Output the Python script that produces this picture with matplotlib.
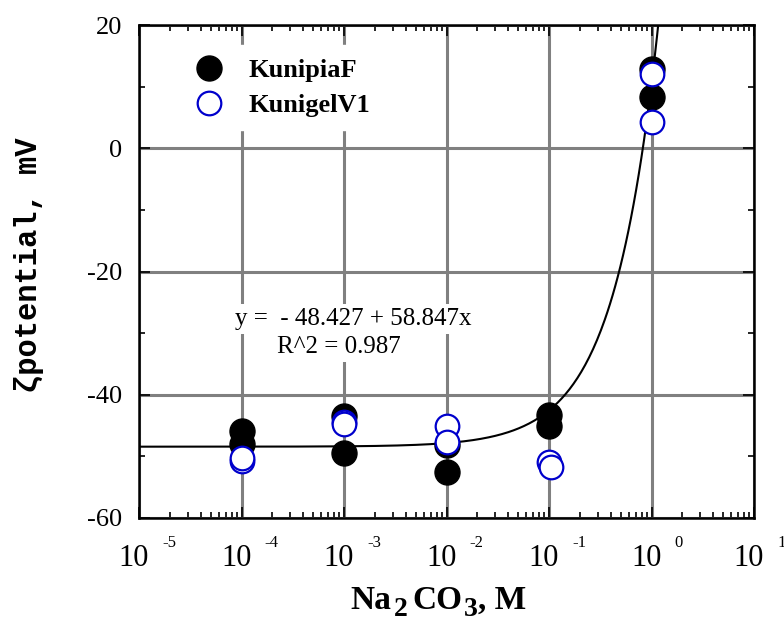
import numpy as np
import matplotlib
matplotlib.use('Agg')
import matplotlib.pyplot as plt
from matplotlib.ticker import LogLocator, MultipleLocator, NullFormatter

plt.rcParams['font.family'] = ['Liberation Serif', 'DejaVu Sans']
plt.rcParams['axes.unicode_minus'] = False

# zeta potential vs Na2CO3 concentration
conc_F = [1e-4, 1e-4, 1e-3, 1e-3, 1e-2, 1e-2, 1e-1, 1e-1, 1, 1]
zeta_F = [-45.9, -48.0, -43.5, -49.5, -48.2, -52.5, -43.3, -45.1, 12.85, 8.3]
conc_V = [1e-4, 1e-4, 1e-3, 1e-3, 1e-2, 1e-2, 1e-1, 1.05e-1, 1, 1]
zeta_V = [-50.7, -50.3, -44.5, -44.8, -45.1, -47.6, -50.9, -51.7, 12.0, 4.2]

# linear fit shown on the chart
fit_a = -48.427
fit_b = 58.847
fit_r2 = 0.987

xticks = [1e-5, 1e-4, 1e-3, 1e-2, 1e-1, 1e0, 1e1]
xexps = ['-5', '-4', '-3', '-2', '-1', '0', '1']
yticks = [-60, -40, -20, 0, 20]

fig = plt.figure(figsize=(7.84, 6.25), dpi=100)
ax = fig.add_axes([139/784, 1-518/625, 615/784, 493/625])

xf = np.logspace(-5, np.log10(1.2), 400)
ax.plot(xf, fit_a + fit_b*xf, color='black', lw=1.5, zorder=3)
ax.plot(conc_F, zeta_F, ls='', marker='o', ms=18, mfc='black', mec='black', zorder=4, label='KunipiaF')
ax.plot(conc_V, zeta_V, ls='', marker='o', ms=17, mfc='white', mec='#0000cc', mew=1.6, zorder=5, label='KunigelV1')

ax.set_xscale('log')
ax.set_xlim(1e-5, 1e1)
ax.set_ylim(-60, 20)
ax.set_xticks(xticks)
ax.xaxis.set_minor_locator(LogLocator(base=10, subs=np.arange(2, 10)))
ax.xaxis.set_major_formatter(NullFormatter())
ax.xaxis.set_minor_formatter(NullFormatter())
ax.set_yticks(yticks)
ax.yaxis.set_minor_locator(MultipleLocator(10))

ax.grid(True, which='major', color='#808080', lw=2.2)
ax.set_axisbelow(True)
for s in ax.spines.values():
    s.set_linewidth(1.8)
ax.tick_params(which='both', direction='in', top=True, right=True, width=1.2)
ax.tick_params(which='major', length=8)
ax.tick_params(which='minor', length=4)
ax.tick_params(axis='y', labelsize=19, pad=12)

for v, e in zip(xticks, xexps):
    ax.annotate('10', xy=(v, 0), xycoords=('data', 'axes fraction'), xytext=(7.2, -34.6),
                textcoords='offset points', ha='right', va='baseline', fontsize=22, annotation_clip=False)
    ax.annotate(e, xy=(v, 0), xycoords=('data', 'axes fraction'), xytext=(16.6, -20.9),
                textcoords='offset points', ha='left', va='baseline', fontsize=12, annotation_clip=False)

# x label: Na2CO3, M with big lowered subscripts
y0 = 1 - 609/625
t = fig.text(350/784, y0, 'Na', fontsize=24, fontweight='bold', va='baseline', ha='left')
for s, fs, dx, dy in [('2', 20, 2.5, -5), ('CO', 24, 3, 0), ('3', 20, 1, -5), (', M', 24, 0, 0)]:
    t = ax.annotate(s, xy=(1, y0), xycoords=(t, 'figure fraction'), xytext=(dx, dy),
                    textcoords='offset points', fontsize=fs, fontweight='bold',
                    ha='left', va='baseline', annotation_clip=False)

ax.set_ylabel('ζpotential, mV', fontfamily=['Liberation Mono', 'DejaVu Sans'], fontweight='bold', fontsize=22)
ax.yaxis.set_label_coords(-0.155, 0.513)

bb = dict(facecolor='white', edgecolor='none', pad=3)
ax.text(0.156, 0.3915, 'y =  - %.3f + %.3fx' % (-fit_a, fit_b), transform=ax.transAxes,
        fontsize=18, ha='left', va='baseline', bbox=bb, zorder=2)
ax.text(0.2244, 0.3347, 'R^2 = %.3f' % fit_r2, transform=ax.transAxes,
        fontsize=18, ha='left', va='baseline', bbox=bb, zorder=2)

leg = ax.legend(loc='upper left', bbox_to_anchor=(0.039, 0.986), frameon=True, fancybox=False,
                facecolor='white', edgecolor='white', framealpha=1, numpoints=1,
                handlelength=1.5, handletextpad=0.73, borderpad=0.5, labelspacing=0.44,
                prop={'weight': 'bold', 'size': 19})
leg.set_zorder(2)

fig.savefig('out.png', dpi=100)
